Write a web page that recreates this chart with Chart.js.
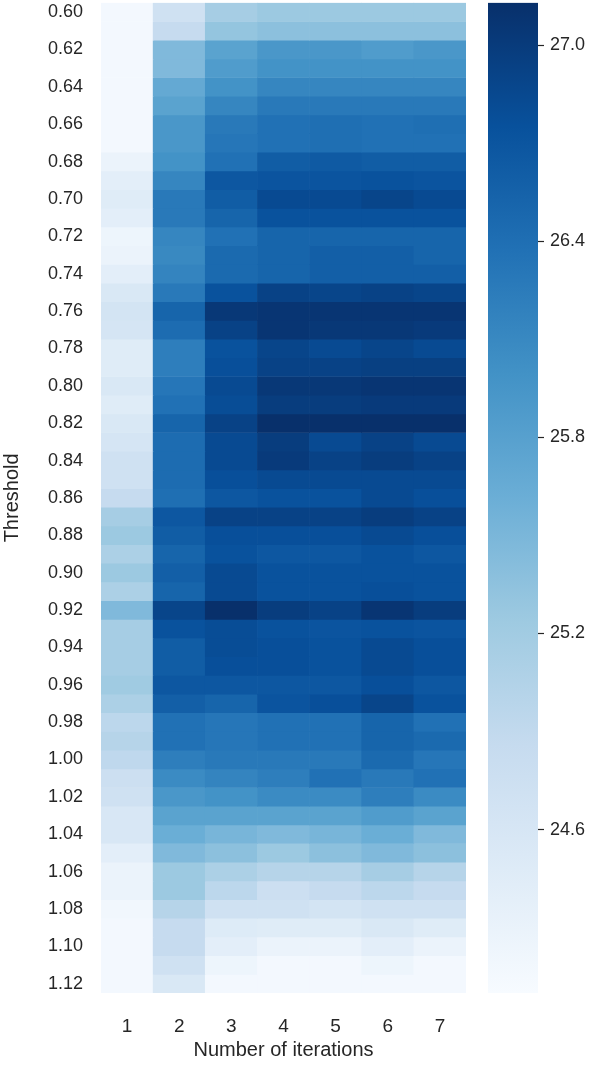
<!DOCTYPE html>
<html>
<head>
<meta charset="UTF-8">
<script src="https://cdn.jsdelivr.net/npm/chart.js"></script>
<style>
    body { margin: 0; background: #fff; overflow: hidden; }
    #heat { position: absolute; left: 0; top: -18px; }
    #bar { position: absolute; left: 480px; top: -14px; }
</style>
</head>
<body>
<canvas id="heat" width="480" height="1084"></canvas>
<canvas id="bar" width="126" height="1080"></canvas>
<script>
// thresholds 0.60 .. 1.12, one row each
const thresholds = [0.60,0.61,0.62,0.63,0.64,0.65,0.66,0.67,0.68,0.69,0.70,0.71,0.72,0.73,0.74,0.75,0.76,0.77,0.78,0.79,
    0.80,0.81,0.82,0.83,0.84,0.85,0.86,0.87,0.88,0.89,0.90,0.91,0.92,0.93,0.94,0.95,0.96,0.97,0.98,0.99,
    1.00,1.01,1.02,1.03,1.04,1.05,1.06,1.07,1.08,1.09,1.10,1.11,1.12];
const iterations = ['1','2','3','4','5','6','7'];
const yTickLabels = [0.60,0.62,0.64,0.66,0.68,0.70,0.72,0.74,0.76,0.78,0.80,0.82,0.84,0.86,0.88,0.90,0.92,0.94,0.96,0.98,1.00,1.02,1.04,1.06,1.08,1.10,1.12];
const colorbarTicks = [24.6, 25.2, 25.8, 26.4, 27.0];
const vmin = 24.1, vmax = 27.13;

const iter1 = [24.16,24.16,24.16,24.16,24.16,24.16,24.16,24.16,24.28,24.40,24.46,24.40,24.25,24.28,24.40,24.55,24.65,24.62,24.46,24.46,
    24.55,24.46,24.55,24.62,24.71,24.71,24.86,25.16,25.25,25.10,25.25,25.10,25.46,25.16,25.16,25.16,25.22,25.10,24.95,25.01,
    24.92,24.77,24.71,24.58,24.58,24.40,24.28,24.28,24.19,24.16,24.16,24.16,24.16];
const iter2 = [24.71,24.86,25.46,25.46,25.68,25.77,25.92,25.92,25.98,26.13,26.28,26.28,26.13,26.10,26.16,26.28,26.52,26.43,26.22,26.22,
    26.31,26.37,26.52,26.43,26.43,26.43,26.40,26.68,26.61,26.52,26.58,26.52,26.89,26.74,26.61,26.61,26.68,26.58,26.37,26.37,
    26.22,26.07,25.92,25.77,25.62,25.46,25.25,25.25,25.01,24.86,24.86,24.71,24.55];
const iter3 = [25.16,25.31,25.77,25.86,25.98,26.13,26.28,26.31,26.37,26.68,26.61,26.52,26.37,26.46,26.46,26.74,27.04,26.92,26.74,26.77,
    26.83,26.80,26.92,26.83,26.83,26.77,26.68,26.92,26.77,26.74,26.83,26.83,27.13,26.80,26.80,26.77,26.68,26.52,26.31,26.31,
    26.28,26.16,25.98,25.77,25.52,25.37,25.10,24.95,24.71,24.49,24.40,24.25,24.16];
const iter4 = [25.25,25.37,25.92,25.98,26.13,26.28,26.37,26.37,26.61,26.71,26.83,26.74,26.52,26.52,26.52,26.92,27.07,27.07,26.89,26.92,
    27.04,26.98,27.13,26.98,27.01,26.83,26.74,26.92,26.77,26.68,26.74,26.74,26.98,26.74,26.77,26.77,26.68,26.71,26.37,26.37,
    26.28,26.22,26.07,25.77,25.46,25.25,25.01,24.77,24.71,24.46,24.28,24.16,24.16];
const iter5 = [25.25,25.37,25.92,25.98,26.13,26.28,26.40,26.40,26.65,26.71,26.83,26.74,26.52,26.58,26.58,26.89,27.07,27.04,26.83,26.92,
    27.04,26.98,27.13,26.83,26.92,26.83,26.74,26.92,26.77,26.68,26.74,26.74,26.92,26.71,26.74,26.74,26.68,26.77,26.37,26.37,
    26.28,26.37,26.07,25.77,25.52,25.37,25.01,24.86,24.65,24.46,24.28,24.16,24.16];
const iter6 = [25.25,25.37,25.86,25.98,26.13,26.28,26.37,26.37,26.61,26.74,26.89,26.74,26.52,26.58,26.58,26.92,27.07,27.04,26.89,26.95,
    27.07,27.01,27.13,26.92,26.98,26.83,26.83,26.98,26.83,26.74,26.74,26.77,27.07,26.74,26.83,26.83,26.77,26.89,26.52,26.52,
    26.46,26.28,26.22,25.86,25.62,25.46,25.16,24.95,24.71,24.55,24.40,24.25,24.16];
const iter7 = [25.25,25.37,25.92,25.98,26.13,26.28,26.40,26.37,26.61,26.71,26.83,26.74,26.52,26.52,26.58,26.89,27.07,27.01,26.83,26.95,
    27.07,27.01,27.13,26.83,26.92,26.83,26.77,26.92,26.77,26.68,26.74,26.74,26.98,26.71,26.77,26.77,26.68,26.74,26.37,26.46,
    26.31,26.37,26.07,25.77,25.46,25.37,25.01,24.86,24.71,24.46,24.28,24.16,24.16];
const columns = [iter1, iter2, iter3, iter4, iter5, iter6, iter7];

// matplotlib "Blues"
const bluesStops = ['#f7fbff','#deebf7','#c6dbef','#9ecae1','#6baed6','#4292c6','#2171b5','#08519c','#08306b'];
function hexToRgb(h) {
    return [parseInt(h.slice(1,3),16), parseInt(h.slice(3,5),16), parseInt(h.slice(5,7),16)];
}
function blues(v) {
    let t = Math.max(0, Math.min(1, (v - vmin) / (vmax - vmin)));
    const p = t * (bluesStops.length - 1);
    const i = Math.min(Math.floor(p), bluesStops.length - 2);
    const f = p - i;
    const a = hexToRgb(bluesStops[i]), b = hexToRgb(bluesStops[i + 1]);
    const c = a.map((x, k) => Math.round(x + (b[k] - x) * f));
    return `rgb(${c[0]},${c[1]},${c[2]})`;
}

const textColor = '#262626';
const fontFamily = '"Liberation Sans", Arial, sans-serif';

const datasets = thresholds.map((th, j) => ({
    data: columns.map(col => [th - 0.005, th + 0.005]),
    backgroundColor: columns.map(col => blues(col[j])),
    borderWidth: 0,
    barPercentage: 1,
    categoryPercentage: 1,
    grouped: false
}));

new Chart(document.getElementById('heat'), {
    type: 'bar',
    data: { labels: iterations, datasets: datasets },
    options: {
        responsive: false,
        animation: false,
        layout: { padding: { top: 2, right: 14 } },
        plugins: { legend: { display: false }, tooltip: { enabled: false } },
        scales: {
            x: {
                grid: { display: false },
                border: { display: false },
                ticks: { color: textColor, font: { family: fontFamily, size: 19 }, padding: 14 },
                title: { display: true, text: 'Number of iterations', color: textColor,
                         font: { family: fontFamily, size: 20 }, padding: { top: 2 } },
                afterFit: s => { s.height = 73; }
            },
            y: {
                type: 'linear',
                reverse: true,
                min: 0.595,
                max: 1.125,
                grid: { display: false },
                border: { display: false },
                afterBuildTicks: s => { s.ticks = yTickLabels.map(v => ({ value: v })); },
                ticks: { color: textColor, font: { family: fontFamily, size: 18 },
                         callback: v => v.toFixed(2), padding: 10 },
                title: { display: true, text: 'Threshold', color: textColor,
                         font: { family: fontFamily, size: 20 }, padding: 0 },
                afterFit: s => { s.width = 101; }
            }
        }
    }
});

// colorbar
new Chart(document.getElementById('bar'), {
    type: 'bar',
    data: {
        labels: [''],
        datasets: [{
            data: [[vmin, vmax]],
            borderWidth: 0,
            barPercentage: 1,
            categoryPercentage: 1,
            backgroundColor: ctx => {
                const area = ctx.chart.chartArea;
                if (!area) return bluesStops[4];
                const g = ctx.chart.ctx.createLinearGradient(0, area.bottom, 0, area.top);
                bluesStops.forEach((c, i) => g.addColorStop(i / (bluesStops.length - 1), c));
                return g;
            }
        }]
    },
    options: {
        responsive: false,
        animation: false,
        layout: { padding: { top: 3, left: 8, bottom: 73 } },
        plugins: { legend: { display: false }, tooltip: { enabled: false } },
        scales: {
            x: { display: false },
            y: {
                position: 'right',
                min: vmin,
                max: vmax,
                grid: { drawOnChartArea: false, tickLength: 6, tickWidth: 1.2, color: textColor },
                border: { display: false },
                afterBuildTicks: s => { s.ticks = colorbarTicks.map(v => ({ value: v })); },
                ticks: { color: textColor, font: { family: fontFamily, size: 18 },
                         callback: v => v.toFixed(1), padding: 6 },
                afterFit: s => { s.width = 68; }
            }
        }
    }
});
</script>
</body>
</html>
